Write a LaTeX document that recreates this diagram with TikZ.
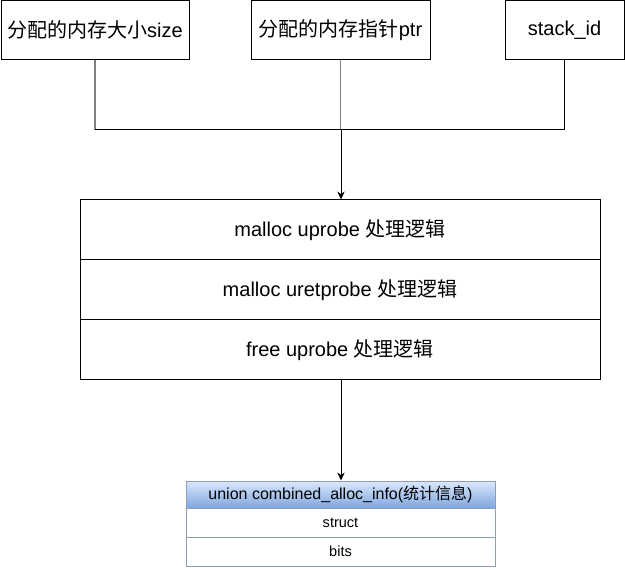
\documentclass[tikz,border=0pt]{standalone}
\usepackage{fontspec}
\setmainfont{Liberation Sans}
\newfontfamily\cjk{Noto Sans CJK SC}
\usetikzlibrary{arrows.meta}
\newcommand{\zh}[1]{{\cjk #1}}
\definecolor{feedgray}{HTML}{808080}
\definecolor{headtop}{HTML}{DAE8FC}
\definecolor{headbot}{HTML}{7EA6E0}
\definecolor{tableline}{HTML}{8E9DB5}

\begin{document}
\begin{tikzpicture}[
    x=0.75pt, y=-0.75pt,
    inbox/.style={rectangle, draw=black, line width=0.75pt, fill=white,
        minimum height=44.25pt, inner sep=0pt,
        font=\fontsize{15}{18}\selectfont},
    procrow/.style={rectangle, draw=black, line width=0.75pt, fill=white,
        minimum width=390pt, minimum height=45pt, inner sep=0pt,
        font=\fontsize{15}{18}\selectfont},
    infohead/.style={rectangle, draw=tableline, line width=0.75pt,
        top color=headtop, bottom color=headbot,
        minimum width=231.75pt, minimum height=20.25pt, inner sep=0pt,
        font=\fontsize{12}{14}\selectfont},
    inforow/.style={rectangle, draw=tableline, line width=0.75pt, fill=white,
        minimum width=231.75pt, minimum height=21.75pt, inner sep=0pt,
        font=\fontsize{10.9}{13}\selectfont},
    feed/.style={feedgray, line width=0.9pt},
    link/.style={black, line width=0.75pt},
    flow/.style={black, line width=0.75pt, -{Stealth[length=6pt, width=5.5pt]}}
]
    \useasboundingbox (0,0) rectangle (625,570);

    % input fields
    \node[inbox, minimum width=141pt] (size) at (95,30) {\zh{分配的内存大小}size};
    \node[inbox, minimum width=134.25pt] (ptr) at (340.5,30) {\zh{分配的内存指针}ptr};
    \node[inbox, minimum width=89.25pt] (stack) at (564.5,30) {stack\_id};

    % handlers
    \node[procrow] (up) at (340,230) {malloc uprobe \zh{处理逻辑}};
    \node[procrow] (uret) at (340,290) {malloc uretprobe \zh{处理逻辑}};
    \node[procrow] (free) at (340,350) {free uprobe \zh{处理逻辑}};

    % union table
    \node[infohead] (info) at (340.5,494.5) {union combined\_alloc\_info(\zh{统计信息})};
    \node[inforow] (struct) at (340.5,522.5) {struct};
    \node[inforow] (bits) at (340.5,551.5) {\raisebox{-2.2pt}{bits}};

    \coordinate (hub) at (341,130);
    \draw[feed] (size.south) -- (size.south |- hub);
    \draw[feed] (ptr.south) -- (ptr.south |- hub);
    \draw[link] (size.south |- hub) -- (stack.south |- hub) -- (stack.south);
    \draw[flow] (hub) -- (up.north -| hub);
    \draw[flow] (free.south -| hub) -- (info.north -| hub);
\end{tikzpicture}
\end{document}
